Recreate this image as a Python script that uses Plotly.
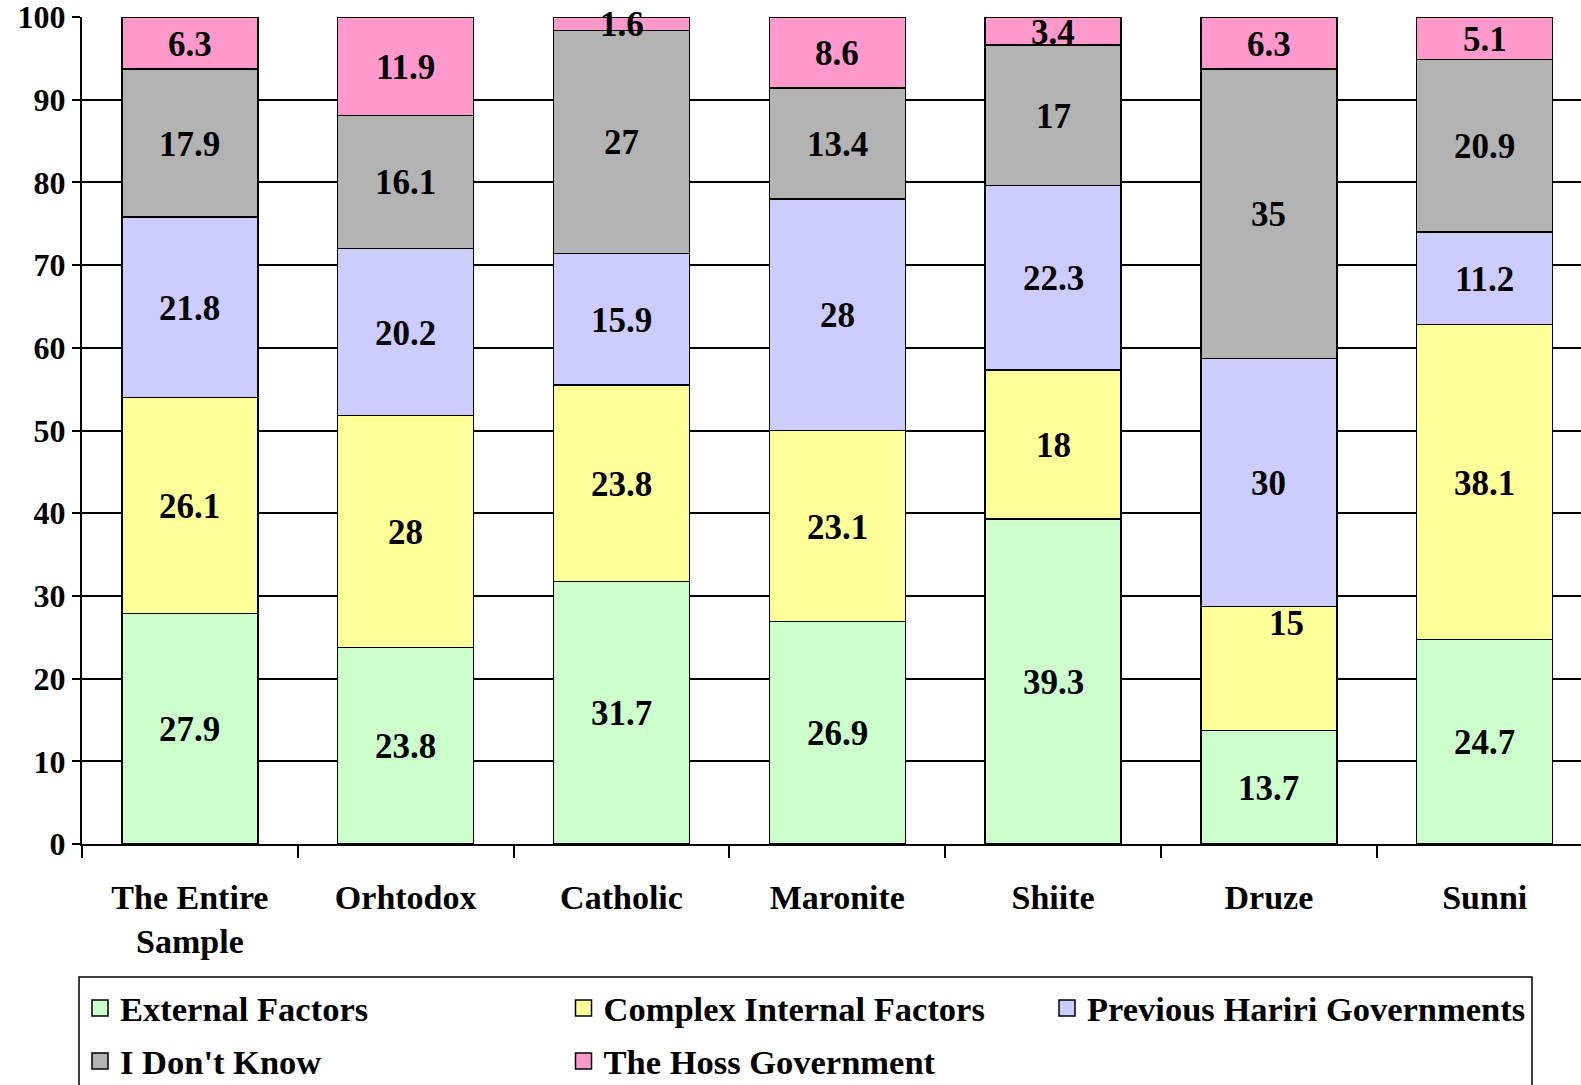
import plotly.graph_objects as go

categories = ["The Entire<br>Sample", "Orhtodox", "Catholic", "Maronite", "Shiite", "Druze", "Sunni"]
series_names = ["External Factors", "Complex Internal Factors", "Previous Hariri Governments",
                "I Don't Know", "The Hoss Government"]
external = [27.9, 23.8, 31.7, 26.9, 39.3, 13.7, 24.7]
complex_internal = [26.1, 28, 23.8, 23.1, 18, 15, 38.1]
previous_hariri = [21.8, 20.2, 15.9, 28, 22.3, 30, 11.2]
dont_know = [17.9, 16.1, 27, 13.4, 17, 35, 20.9]
hoss = [6.3, 11.9, 1.6, 8.6, 3.4, 6.3, 5.1]
y_ticks = list(range(0, 101, 10))

series_values = [external, complex_internal, previous_hariri, dont_know, hoss]
colors = ["#CCFFCC", "#FFFF99", "#CCCCFF", "#B3B3B3", "#FF99CC"]
legend_ids = ["legend", "legend", "legend", "legend2", "legend2"]

FONT = "Liberation Serif"
W, H = 1581, 1085
ML, MT, MB = 82, 17, 241
plot_w = W - ML
plot_h = H - MT - MB
cat_px = 215.8

fig = go.Figure()
for name, vals, col in zip(series_names, series_values, colors):
    fig.add_trace(go.Bar(
        x=categories, y=vals, name=name, showlegend=False,
        marker=dict(color=col, line=dict(color="black", width=1.3)),
        width=0.63, hoverinfo="x+y+name",
    ))
# legend entries with larger square swatches
for name, col, lg in zip(series_names, colors, legend_ids):
    fig.add_trace(go.Scatter(
        x=[None], y=[None], mode="markers", name=name, legend=lg, showlegend=True,
        marker=dict(symbol="square", size=18, color=col, line=dict(color="black", width=1.5)),
        hoverinfo="skip",
    ))

# value labels centred in each segment
label_shift = {(5, 1): (18, 46)}
annotations = []
base = [0.0] * len(categories)
for si, vals in enumerate(series_values):
    for ci, v in enumerate(vals):
        mid = base[ci] + v / 2
        base[ci] += v
        dx, dy = label_shift.get((ci, si), (0, 0))
        annotations.append(dict(
            x=categories[ci], y=mid, xref="x", yref="y", text=f"{v:g}",
            showarrow=False, xshift=dx, yshift=dy - 1,
            font=dict(family=FONT, size=35, color="black", weight="bold"),
        ))

legend_font = dict(family=FONT, size=34.5, color="black", weight="bold")
common_leg = dict(orientation="h", xref="container", x=80 / W, xanchor="left",
                  yref="container", yanchor="middle", itemsizing="trace",
                  entrywidth=438.5, entrywidthmode="pixels", font=legend_font,
                  bgcolor="rgba(0,0,0,0)", traceorder="normal")

fig.update_layout(
    width=W, height=H,
    margin=dict(l=ML, r=0, t=MT, b=MB, pad=0),
    barmode="stack",
    paper_bgcolor="white", plot_bgcolor="white",
    font=dict(family=FONT, color="black"),
    annotations=annotations,
    legend=dict(y=1 - 1008 / H, **common_leg),
    legend2=dict(y=1 - 1061 / H, **common_leg),
    shapes=[
        dict(type="rect", xref="paper", yref="paper",
             x0=(79 - ML) / plot_w, x1=(1532 - ML) / plot_w,
             y0=(MT + plot_h - 977) / plot_h, y1=-0.5,
             line=dict(color="black", width=1.5), fillcolor="rgba(0,0,0,0)", layer="below"),
    ],
    xaxis=dict(
        type="category", range=[-0.5, -0.5 + plot_w / cat_px],
        showline=True, linecolor="black", linewidth=2,
        ticks="outside", tickson="boundaries", ticklen=12, tickwidth=2, tickcolor="black",
        tickfont=dict(family=FONT, size=34, color="black", weight="bold"),
        ticklabelstandoff=22, showgrid=False, zeroline=False,
    ),
    yaxis=dict(
        range=[0, 100], tickvals=y_ticks, ticktext=[str(t) for t in y_ticks],
        showline=True, linecolor="black", linewidth=2,
        ticks="outside", ticklen=8, tickwidth=2, tickcolor="black",
        tickfont=dict(family=FONT, size=32, color="black", weight="bold"),
        ticklabelstandoff=0, ticklabeloverflow="allow",
        showgrid=True, gridcolor="black", gridwidth=1.5, zeroline=False,
    ),
)

fig.write_html("out.html", config={"displayModeBar": False},
               post_script="document.body.style.margin='0';document.body.style.overflow='hidden';")
